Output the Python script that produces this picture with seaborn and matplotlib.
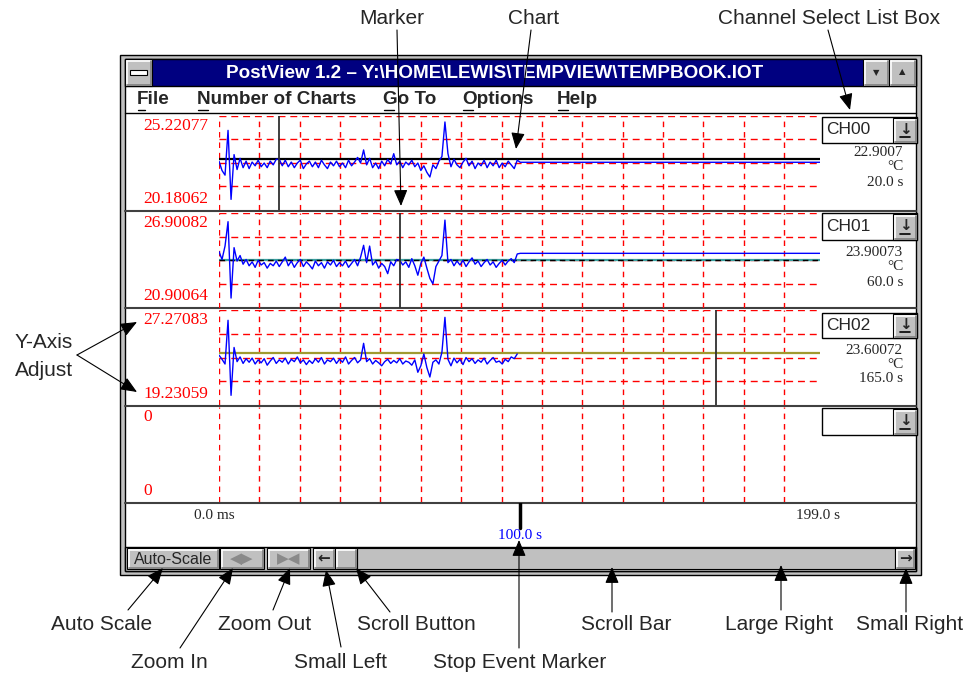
import matplotlib
matplotlib.use("Agg")
import matplotlib.pyplot as plt
from matplotlib.patches import Rectangle
import numpy as np
import seaborn as sns

# logged samples, one per second until the stop event
secs = np.arange(0, 101)
secs_ch02 = np.arange(0, 100)

ch00 = [22.80, 22.30, 22.05, 24.45, 20.75, 23.15, 22.35, 22.95, 22.45, 22.80,
        22.40, 22.75, 22.55, 22.85, 22.50, 22.70, 22.45, 22.80, 22.60, 22.90,
        22.90, 22.55, 22.85, 22.50, 22.75, 22.45, 22.70, 22.85, 22.40, 22.65,
        22.80, 22.50, 22.75, 22.45, 22.85, 22.60, 22.40, 22.75, 22.55, 22.80,
        22.50, 22.70, 22.45, 22.85, 22.55, 22.75, 23.00, 22.70, 23.40, 22.60,
        22.95, 22.45, 22.70, 22.40, 22.80, 22.55, 22.90, 22.65, 23.20, 22.60,
        22.80, 22.45, 22.75, 22.60, 22.85, 22.50, 22.70, 22.30, 22.55, 22.20,
        21.95, 22.60, 22.40, 22.80, 23.05, 24.90, 23.20, 22.50, 22.90, 22.60,
        22.45, 22.75, 22.95, 22.55, 22.80, 22.40, 22.70, 22.55, 22.85, 22.45,
        22.75, 22.55, 22.85, 22.45, 22.70, 22.50, 22.80, 22.60, 22.40, 22.85,
        22.74]
ch01 = [24.45, 23.95, 24.80, 26.35, 21.50, 24.70, 23.85, 24.20, 23.65, 23.95,
        23.55, 23.80, 23.45, 23.90, 23.60, 23.75, 23.40, 23.70, 23.55, 23.85,
        23.50, 23.80, 24.10, 23.55, 23.85, 23.45, 23.75, 23.95, 23.50, 23.80,
        23.60, 23.35, 23.85, 23.55, 23.75, 23.40, 23.80, 23.60, 23.90, 23.50,
        23.75, 23.55, 23.85, 23.45, 23.70, 23.95, 23.55, 24.10, 24.85, 23.75,
        24.80, 23.60, 23.85, 23.40, 23.70, 23.50, 23.05, 23.80, 23.55, 23.95,
        23.90, 23.60, 23.80, 23.45, 24.00, 23.55, 22.95, 23.70, 24.10, 23.40,
        22.75, 22.40, 23.50, 23.85, 24.20, 26.45, 23.75, 23.95, 23.55, 23.85,
        23.60, 23.90, 23.50, 23.80, 24.05, 23.65, 23.85, 23.50, 23.75, 23.95,
        23.60, 23.80, 23.45, 23.70, 23.90, 23.60, 23.85, 24.00, 23.75, 24.30,
        24.34]
ch02 = [23.45, 23.10, 22.70, 26.40, 20.05, 24.10, 22.90, 23.30, 22.75, 23.15,
        22.85, 23.20, 22.70, 23.05, 22.80, 23.15, 22.60, 22.95, 23.25, 22.75,
        23.05, 22.85, 23.20, 22.70, 23.10, 22.90, 23.30, 22.80, 23.05, 22.65,
        23.00, 22.75, 23.15, 22.85, 23.25, 22.70, 23.05, 22.90, 23.20, 22.75,
        23.10, 22.85, 23.30, 22.70, 23.00, 23.25, 22.80, 23.05, 24.45, 22.90,
        23.15, 22.70, 23.00, 22.80, 22.55, 22.90, 23.10, 22.75, 23.00, 22.80,
        23.15, 22.70, 22.95, 22.85, 22.60, 23.05, 22.00, 22.55, 23.55, 22.40,
        21.60, 22.85, 23.05, 22.70, 23.70, 26.65, 23.10, 22.55, 23.20, 22.80,
        23.10, 22.65, 23.25, 22.90, 23.15, 22.75, 23.05, 22.85, 23.20, 22.70,
        23.00, 23.25, 22.85, 22.95, 22.70, 23.10, 22.90, 23.30, 23.15, 23.55]

channels = ["CH00", "CH01", "CH02", ""]
y_top = [25.22077, 26.90082, 27.27083, 0]
y_bottom = [20.18062, 20.90064, 19.23059, 0]
marker_secs = [20.0, 60.0, 165.0]
marker_values = [22.9007, 23.90073, 23.60072]
hold_values = [22.74, 24.34, None]
x_end = 199.5
last_time = 199.0
stop_event = 100.0

W, H = 974, 677
NARROW = ["Liberation Sans Narrow", "Liberation Sans", "DejaVu Sans"]
SANS = ["Liberation Sans", "DejaVu Sans"]
SERIF = ["Liberation Serif", "DejaVu Serif"]

sns.set_style("white")
fig = plt.figure(figsize=(W / 100, H / 100), dpi=100)


def px_axes(x0, y0, x1, y1):
    a = fig.add_axes([x0 / W, 1 - y1 / H, (x1 - x0) / W, (y1 - y0) / H])
    a.set_axis_off()
    return a


def bevel(a, x0, y0, x1, y1, face="#c0c0c0"):
    a.add_patch(Rectangle((x0, y0), x1 - x0, y1 - y0, facecolor=face,
                          edgecolor="black", lw=0.8))
    a.plot([x0 + 1.5, x1 - 1.5], [y0 + 1.5, y0 + 1.5], color="white", lw=1.2)
    a.plot([x0 + 1.5, x0 + 1.5], [y0 + 1.5, y1 - 1.5], color="white", lw=1.2)
    a.plot([x0 + 1.5, x1 - 1.5], [y1 - 1.5, y1 - 1.5], color="#808080", lw=1.2)
    a.plot([x1 - 1.5, x1 - 1.5], [y0 + 1.5, y1 - 1.5], color="#808080", lw=1.2)


# window chrome, drawn in pixel units
ax = fig.add_axes([0, 0, 1, 1])
ax.set_xlim(0, W)
ax.set_ylim(H, 0)
ax.set_axis_off()

ax.add_patch(Rectangle((120, 55), 801, 520, facecolor="#c0c0c0", edgecolor="black", lw=1))
ax.add_patch(Rectangle((125, 59), 791, 512, facecolor="white", edgecolor="black", lw=1))
ax.add_patch(Rectangle((125, 59), 791, 27, facecolor="#000080", edgecolor="black", lw=1))
ax.text(495, 73, "PostView 1.2 \u2013 Y:\\HOME\\LEWIS\\TEMPVIEW\\TEMPBOOK.IOT",
        color="white", fontsize=13.6, fontweight="bold", ha="center", va="center", family=NARROW)
bevel(ax, 125, 59, 152, 86)
ax.add_patch(Rectangle((130, 70), 17, 5, facecolor="white", edgecolor="black", lw=0.8))
bevel(ax, 863, 59, 889, 86)
bevel(ax, 889, 59, 916, 86)
ax.text(876, 73, "\u25bc", fontsize=6, ha="center", va="center")
ax.text(902.5, 72, "\u25b2", fontsize=6, ha="center", va="center")

ax.plot([125, 916], [113, 113], color="black", lw=1)
for mx, label, uw in [(137, "File", 8), (197, "Number of Charts", 11), (383, "Go To", 11),
                      (462, "Options", 11), (557, "Help", 11)]:
    ax.text(mx, 100, label, fontsize=13.6, fontweight="bold", ha="left", va="center", family=NARROW)
    ax.plot([mx + 1, mx + uw], [109.5, 109.5], color="black", lw=1)

# panels
panel_px = [(116, 210), (213, 307.5), (310, 405), (407, 502)]
for sep in [210, 307, 405, 502]:
    ax.plot([125, 916], [sep + 0.5, sep + 0.5], color="#404040", lw=1.5)

traces = [(secs, ch00), (secs, ch01), (secs_ch02, ch02)]
ref_colors = ["black", "#3aa0a0", "#a09a30"]
box_px = [(117, 143), (213, 240), (313, 338), (408, 435)]
value_y = [153, 253, 350]

for i, (top, bot) in enumerate(panel_px):
    axp = px_axes(219, top, 820, bot)
    axp.set_xlim(0, x_end)
    lo, hi = y_bottom[i], y_top[i]
    if hi == lo:
        lo, hi = 0, 1
    axp.set_ylim(lo, hi)
    for k in range(15):
        axp.axvline(k * 13.4, color="#ff0000", lw=1, ls=(0, (4, 3.5)))
    if i < 3:
        for k in range(1, 5):
            axp.axhline(lo + k * (hi - lo) / 4, xmax=0.995, color="#ff0000", lw=1, ls=(0, (5, 3.5)))
        t, v = traces[i]
        t = list(t)
        v = list(v)
        if hold_values[i] is not None:
            t.append(x_end)
            v.append(hold_values[i])
        axp.axhline(marker_values[i], color=ref_colors[i], lw=1.6)
        if i == 1:
            axp.axhline(marker_values[i], color="black", lw=1, ls=(0, (4, 3)))
        sns.lineplot(x=t, y=v, ax=axp, color="#0000ff", lw=1, estimator=None, legend=False)
        axp.axvline(marker_secs[i], color="#303030", lw=1.3)
        axp.set_axis_off()
        lbl_top = f"{y_top[i]:.5f}"
        lbl_bot = f"{y_bottom[i]:.5f}"
        ax.text(903, value_y[i], str(marker_values[i]), fontsize=11, ha="right", va="center", family=SERIF)
        ax.text(903, value_y[i] + 14, "\u00b0C", fontsize=11, ha="right", va="center", family=SERIF)
        ax.text(903, value_y[i] + 29, f"{marker_secs[i]:.1f} s", fontsize=11, ha="right", va="center", family=SERIF)
    else:
        lbl_top = f"{y_top[i]:g}"
        lbl_bot = f"{y_bottom[i]:g}"
    ax.text(143, top + 10, lbl_top, color="#ff0000", fontsize=12.5, ha="left", va="center", family=SERIF)
    ax.text(143, bot - 11, lbl_bot, color="#ff0000", fontsize=12.5, ha="left", va="center", family=SERIF)
    b0, b1 = box_px[i]
    ax.add_patch(Rectangle((822, b0), 95, b1 - b0, facecolor="white", edgecolor="black", lw=1))
    bevel(ax, 893, b0 + 1, 917, b1)
    ax.text(905, (b0 + b1) / 2 - 1, "\u2193", fontsize=11, fontweight="bold", ha="center", va="center")
    ax.plot([900, 910], [b1 - 6, b1 - 6], color="black", lw=1.2)
    ax.text(826, (b0 + b1) / 2, channels[i], fontsize=12.5, ha="left", va="center", family=SANS)

# time axis strip
axt = px_axes(219, 503, 820, 546)
axt.set_xlim(0, x_end)
axt.set_ylim(1, 0)
axt.axvline(stop_event, ymin=0.42, ymax=1, color="black", lw=2.5)
axt.text(-1.5, 0.28, "0.0 ms", fontsize=11, ha="center", va="center", family=SERIF)
axt.text(last_time, 0.28, f"{last_time:.1f} s", fontsize=11, ha="center", va="center", family=SERIF)
axt.text(stop_event, 0.75, f"{stop_event:.1f} s", fontsize=11, color="#0000ff",
         ha="center", va="center", family=SERIF)

# button / scroll bar row
ax.add_patch(Rectangle((125, 547), 791, 24, facecolor="#c0c0c0", edgecolor="black", lw=1))
bevel(ax, 127, 548, 219, 569)
ax.text(173, 559, "Auto-Scale", fontsize=11.5, ha="center", va="center", family=SANS)
bevel(ax, 220, 548, 264, 569)
ax.text(242, 558.5, "\u25c0\u25b6", fontsize=11, color="#8a8a8a", ha="center", va="center")
bevel(ax, 267, 548, 310, 569)
ax.text(288.5, 558.5, "\u25b6\u25c0", fontsize=11, color="#8a8a8a", ha="center", va="center")
bevel(ax, 313, 548, 335, 569)
ax.text(324, 558, "\u2190", fontsize=11, fontweight="bold", ha="center", va="center")
ax.add_patch(Rectangle((357, 548), 538, 21, facecolor="#c0c0c0", edgecolor="black", lw=0.8))
bevel(ax, 335, 548, 357, 569)
bevel(ax, 895, 548, 915, 569)
ax.text(905, 558, "\u2192", fontsize=11, fontweight="bold", ha="center", va="center")

# callouts
ov = fig.add_axes([0, 0, 1, 1])
ov.set_xlim(0, W)
ov.set_ylim(H, 0)
ov.set_axis_off()
ov.set_zorder(10)


def callout(sx, sy, ex, ey):
    ov.annotate("", xy=(ex, ey), xytext=(sx, sy),
                arrowprops=dict(arrowstyle="-|>,head_length=1.0,head_width=0.42",
                                color="black", lw=0.8, shrinkA=0, shrinkB=0, mutation_scale=10))


def label(x, y, s):
    ov.text(x, y, s, fontsize=15, ha="center", va="center", family=NARROW)


label(392, 18, "Marker")
callout(397, 30, 401, 206)
label(534, 18, "Chart")
callout(531, 30, 516, 149)
label(829, 18, "Channel Select List Box")
callout(828, 30, 850, 110)

label(44, 342, "Y-Axis")
label(44, 370, "Adjust")
callout(77, 355, 137, 322)
callout(77, 355, 137, 392)

label(102, 625, "Auto Scale")
callout(128, 610, 163, 568)
label(169, 662, "Zoom In")
callout(180, 648, 233, 568)
label(265, 625, "Zoom Out")
callout(273, 610, 290, 568)
label(340, 662, "Small Left")
callout(341, 647, 326, 570)
label(416, 625, "Scroll Button")
callout(390, 612, 356, 568)
label(520, 662, "Stop Event Marker")
callout(519, 648, 519, 540)
label(626, 625, "Scroll Bar")
callout(612, 612, 612, 567)
label(779, 625, "Large Right")
callout(781, 610, 781, 565)
label(910, 625, "Small Right")
callout(906, 612, 906, 568)

fig.savefig("out.png", dpi=100)
